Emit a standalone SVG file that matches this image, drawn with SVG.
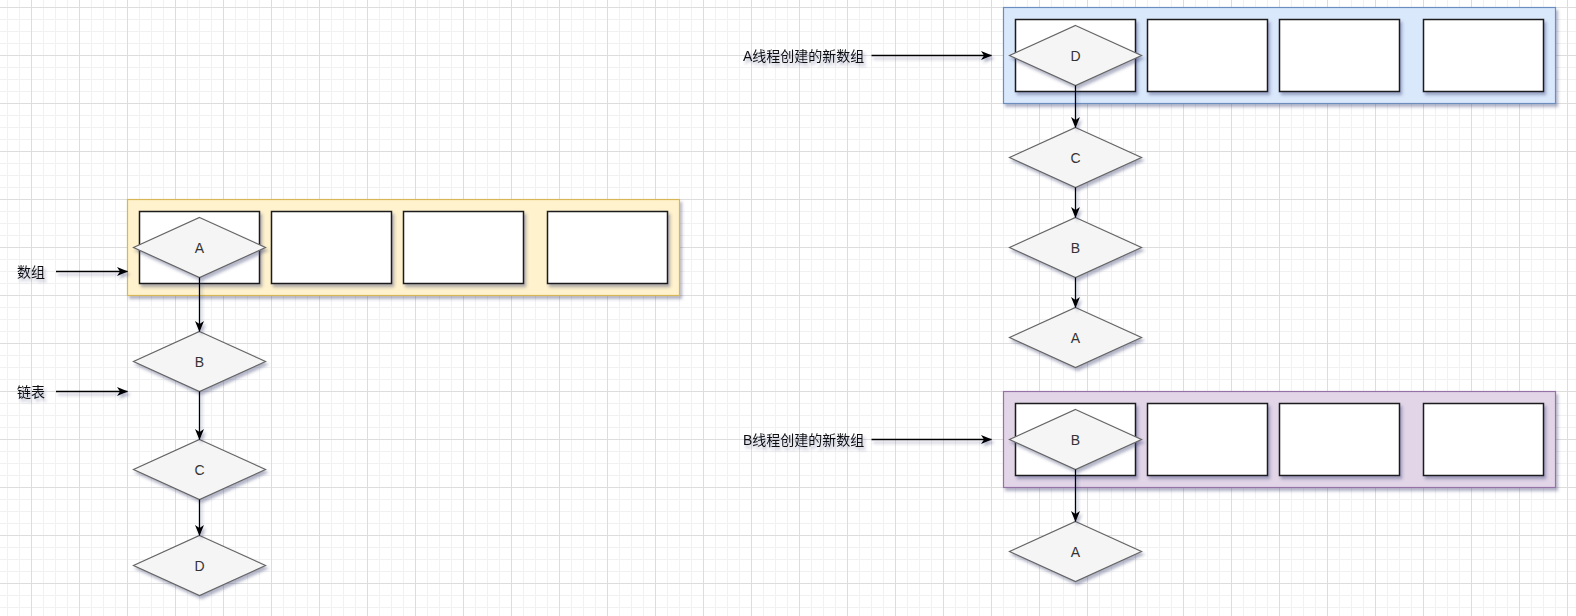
<svg xmlns="http://www.w3.org/2000/svg" width="1576" height="616" viewBox="0 0 1576 616">
  <defs>
    <pattern id="minor" patternUnits="userSpaceOnUse" x="7" y="7" width="12" height="12">
      <path d="M0.5,0 V12 M0,0.5 H12" stroke="#f1f1f1" stroke-width="1" fill="none"/>
    </pattern>
    <pattern id="major" patternUnits="userSpaceOnUse" x="31" y="7" width="48" height="48">
      <path d="M0.5,0 V48 M0,0.5 H48" stroke="#dddddd" stroke-width="1" fill="none"/>
    </pattern>
    <filter id="sh" x="-20%" y="-20%" width="140%" height="160%">
      <feDropShadow dx="2" dy="3" stdDeviation="1.7" flood-color="#3D4574" flood-opacity="0.4"/>
    </filter>
    <marker id="arr" viewBox="0 0 11 10" refX="10.5" refY="5" markerWidth="11" markerHeight="10" markerUnits="userSpaceOnUse" orient="auto">
      <path d="M0,0.5 L11,5 L0,9.5 L3,5 Z" fill="#000"/>
    </marker>
    <style>
      .cell { fill: #ffffff; stroke: #1a1a1a; stroke-width: 1.5; filter: url(#sh); }
      .dia { fill: #f5f5f5; stroke: #666666; stroke-width: 1.2; filter: url(#sh); }
      .dt { font-family: "Liberation Sans", "Noto Sans CJK SC", sans-serif; font-size: 14px; fill: #333333; text-anchor: middle; dominant-baseline: central; }
      .lbl { font-family: "Liberation Sans", "Noto Sans CJK SC", sans-serif; font-size: 14px; fill: #111111; dominant-baseline: central; filter: url(#sh); }
      .conn path { stroke: #000000; stroke-width: 1.3; fill: none; marker-end: url(#arr); }
    </style>
  </defs>

  <rect width="1576" height="616" fill="#ffffff"/>
  <rect width="1576" height="616" fill="url(#minor)"/>
  <rect width="1576" height="616" fill="url(#major)"/>

  <!-- Left array container -->
  <g id="array-left">
    <rect x="127.5" y="199.5" width="552" height="96" fill="#fff2cc" stroke="#d6b656" stroke-width="1.2" filter="url(#sh)"/>
    <rect class="cell" x="139.5" y="211.5" width="120" height="72"/>
    <rect class="cell" x="271.5" y="211.5" width="120" height="72"/>
    <rect class="cell" x="403.5" y="211.5" width="120" height="72"/>
    <rect class="cell" x="547.5" y="211.5" width="120" height="72"/>
  </g>

  <!-- Thread A new array -->
  <g id="array-a">
    <rect x="1003.5" y="7.5" width="552" height="96" fill="#dae8fc" stroke="#6c8ebf" stroke-width="1.2" filter="url(#sh)"/>
    <rect class="cell" x="1015.5" y="19.5" width="120" height="72"/>
    <rect class="cell" x="1147.5" y="19.5" width="120" height="72"/>
    <rect class="cell" x="1279.5" y="19.5" width="120" height="72"/>
    <rect class="cell" x="1423.5" y="19.5" width="120" height="72"/>
  </g>

  <!-- Thread B new array -->
  <g id="array-b">
    <rect x="1003.5" y="391.5" width="552" height="96" fill="#e1d5e7" stroke="#9673a6" stroke-width="1.2" filter="url(#sh)"/>
    <rect class="cell" x="1015.5" y="403.5" width="120" height="72"/>
    <rect class="cell" x="1147.5" y="403.5" width="120" height="72"/>
    <rect class="cell" x="1279.5" y="403.5" width="120" height="72"/>
    <rect class="cell" x="1423.5" y="403.5" width="120" height="72"/>
  </g>

  <!-- Left linked list -->
  <g id="l-A"><path class="dia" d="M199.5,217.5 L265.5,247.5 L199.5,277.5 L133.5,247.5 Z"/><text class="dt" x="199.5" y="247.5">A</text></g>
  <g id="l-B"><path class="dia" d="M199.5,331.5 L265.5,361.5 L199.5,391.5 L133.5,361.5 Z"/><text class="dt" x="199.5" y="361.5">B</text></g>
  <g id="l-C"><path class="dia" d="M199.5,439.5 L265.5,469.5 L199.5,499.5 L133.5,469.5 Z"/><text class="dt" x="199.5" y="469.5">C</text></g>
  <g id="l-D"><path class="dia" d="M199.5,535.5 L265.5,565.5 L199.5,595.5 L133.5,565.5 Z"/><text class="dt" x="199.5" y="565.5">D</text></g>

  <!-- Thread A list -->
  <g id="a-D"><path class="dia" d="M1075.5,25.5 L1141.5,55.5 L1075.5,85.5 L1009.5,55.5 Z"/><text class="dt" x="1075.5" y="55.5">D</text></g>
  <g id="a-C"><path class="dia" d="M1075.5,127.5 L1141.5,157.5 L1075.5,187.5 L1009.5,157.5 Z"/><text class="dt" x="1075.5" y="157.5">C</text></g>
  <g id="a-B"><path class="dia" d="M1075.5,217.5 L1141.5,247.5 L1075.5,277.5 L1009.5,247.5 Z"/><text class="dt" x="1075.5" y="247.5">B</text></g>
  <g id="a-A"><path class="dia" d="M1075.5,307.5 L1141.5,337.5 L1075.5,367.5 L1009.5,337.5 Z"/><text class="dt" x="1075.5" y="337.5">A</text></g>

  <!-- Thread B list -->
  <g id="b-B"><path class="dia" d="M1075.5,409.5 L1141.5,439.5 L1075.5,469.5 L1009.5,439.5 Z"/><text class="dt" x="1075.5" y="439.5">B</text></g>
  <g id="b-A"><path class="dia" d="M1075.5,521.5 L1141.5,551.5 L1075.5,581.5 L1009.5,551.5 Z"/><text class="dt" x="1075.5" y="551.5">A</text></g>

  <!-- Labels -->
  <g id="label-array"><text class="lbl" x="17" y="271.5">数组</text></g>
  <g id="label-list"><text class="lbl" x="17" y="391.5">链表</text></g>
  <g id="label-a"><text class="lbl" x="743" y="55.5">A线程创建的新数组</text></g>
  <g id="label-b"><text class="lbl" x="743" y="439.5">B线程创建的新数组</text></g>

  <!-- Connectors -->
  <g id="connectors" class="conn" filter="url(#sh)">
    <path d="M56,271.5 L127.5,271.5"/>
    <path d="M56,391.5 L127.5,391.5"/>
    <path d="M199.5,277.5 L199.5,331.5"/>
    <path d="M199.5,391.5 L199.5,439.5"/>
    <path d="M199.5,499.5 L199.5,535.5"/>
    <path d="M871.5,55.5 L991.5,55.5"/>
    <path d="M1075.5,85.5 L1075.5,127.5"/>
    <path d="M1075.5,187.5 L1075.5,217.5"/>
    <path d="M1075.5,277.5 L1075.5,307.5"/>
    <path d="M871.5,439.5 L991.5,439.5"/>
    <path d="M1075.5,469.5 L1075.5,521.5"/>
  </g>
</svg>
